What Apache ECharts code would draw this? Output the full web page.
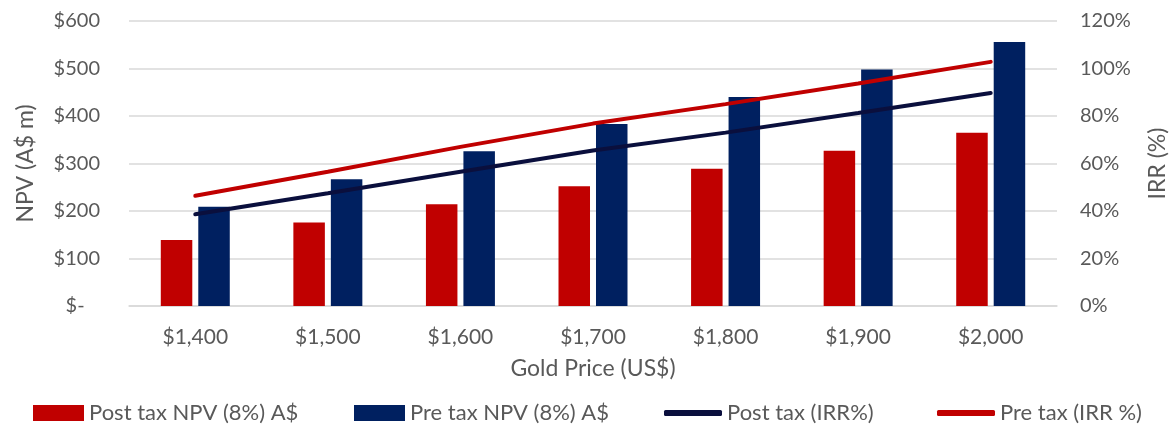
<!DOCTYPE html>
<html>
<head>
<meta charset="utf-8">
<script src="https://cdn.jsdelivr.net/npm/echarts@6/dist/echarts.min.js"></script>
<style>
html,body{margin:0;padding:0;background:#fff;}
#chart{width:1169px;height:424px;}
</style>
</head>
<body>
<div id="chart"></div>
<script>
var categories = ['$1,400','$1,500','$1,600','$1,700','$1,800','$1,900','$2,000'];
var postTaxNPV = [139, 176, 214, 252, 289, 327, 365];
var preTaxNPV = [209, 267, 326, 383, 440, 498, 556];
var postTaxIRR = [38.6, 47.5, 56.5, 65.5, 73, 81.3, 89.7];
var preTaxIRR = [46.4, 56.5, 67, 76.8, 85, 93.7, 102.8];
var npvTicks = [0, 100, 200, 300, 400, 500, 600];
var irrTicks = [0, 20, 40, 60, 80, 100, 120];

var FONT = 'Lato';
var TXT = '#595959';
var RED = '#C00000';
var NAVY = '#002060';
var DARK = '#0A0F3D';

var chart = echarts.init(document.getElementById('chart'));
var legendText = {color: TXT, fontSize: 22, fontFamily: FONT};
chart.setOption({
  animation: false,
  textStyle: {fontFamily: FONT},
  grid: {left: 129, right: 112, top: 21, bottom: 118, containLabel: false, outerBoundsMode: 'none'},
  legend: [
    {left: 33, top: 402, padding: 0, itemWidth: 51, itemHeight: 16, itemGap: 4, textStyle: legendText,
     data: [{name: 'Post tax NPV (8%) A$', icon: 'rect'}]},
    {left: 354, top: 402, padding: 0, itemWidth: 51, itemHeight: 16, textStyle: legendText,
     data: [{name: 'Pre tax NPV (8%) A$', icon: 'rect'}]},
    {left: 664, top: 402, padding: 0, itemWidth: 58, itemHeight: 6, textStyle: legendText,
     data: [{name: 'Post tax (IRR%)', icon: 'roundRect'}]},
    {left: 937, top: 402, padding: 0, itemWidth: 58, itemHeight: 6, textStyle: legendText,
     data: [{name: 'Pre tax (IRR %)', icon: 'roundRect'}]}
  ],
  xAxis: {
    type: 'category',
    data: categories,
    name: 'Gold Price (US$)',
    nameLocation: 'middle',
    nameGap: 51,
    nameTextStyle: {color: TXT, fontSize: 23, fontFamily: FONT},
    axisLine: {show: true, lineStyle: {color: '#D9D9D9', width: 1.5}},
    axisTick: {show: false},
    axisLabel: {color: TXT, fontSize: 21, fontFamily: FONT, margin: 21}
  },
  yAxis: [
    {
      type: 'value', min: npvTicks[0], max: npvTicks[npvTicks.length - 1], interval: 100,
      name: 'NPV (A$ m)', nameLocation: 'middle', nameRotate: 90, nameGap: 92,
      nameTextStyle: {color: TXT, fontSize: 23, fontFamily: FONT},
      axisLine: {show: false}, axisTick: {show: false},
      splitLine: {lineStyle: {color: '#D9D9D9', width: 1.5}},
      axisLabel: {color: TXT, fontSize: 20, fontFamily: FONT, margin: 29,
        formatter: function (v) { return v === 0 ? '$-   ' : '$' + v; }}
    },
    {
      type: 'value', min: irrTicks[0], max: irrTicks[irrTicks.length - 1], interval: 20,
      name: 'IRR (%)', nameLocation: 'middle', nameRotate: 90, nameGap: 89,
      nameTextStyle: {color: TXT, fontSize: 23, fontFamily: FONT},
      axisLine: {show: false}, axisTick: {show: false},
      splitLine: {show: false},
      axisLabel: {color: TXT, fontSize: 20, fontFamily: FONT, margin: 23,
        formatter: '{value}%'}
    }
  ],
  series: [
    {name: 'Post tax NPV (8%) A$', type: 'bar', data: postTaxNPV, barWidth: 31.5, barGap: '19%',
     itemStyle: {color: RED}},
    {name: 'Pre tax NPV (8%) A$', type: 'bar', data: preTaxNPV, barWidth: 31.5, barGap: '19%',
     itemStyle: {color: NAVY}},
    {name: 'Post tax (IRR%)', type: 'line', yAxisIndex: 1, data: postTaxIRR, symbol: 'none',
     itemStyle: {color: DARK}, lineStyle: {color: DARK, width: 4, cap: 'round'}},
    {name: 'Pre tax (IRR %)', type: 'line', yAxisIndex: 1, data: preTaxIRR, symbol: 'none',
     itemStyle: {color: RED}, lineStyle: {color: RED, width: 4, cap: 'round'}}
  ]
});
</script>
</body>
</html>
